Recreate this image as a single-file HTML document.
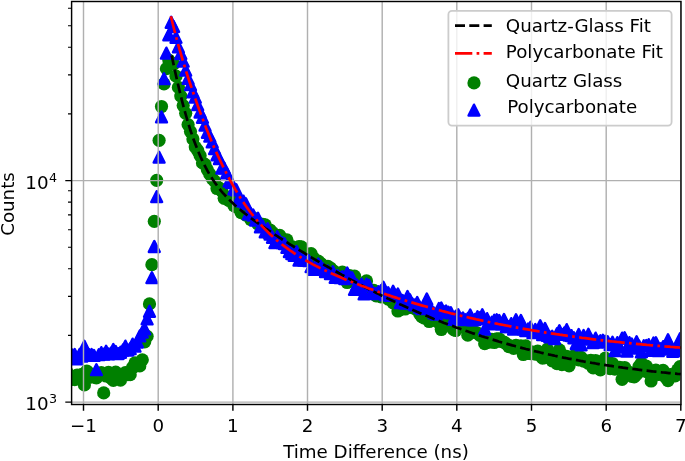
<!DOCTYPE html>
<html lang="en"><head><meta charset="utf-8"><title>Counts vs Time Difference</title>
<style>html,body{margin:0;padding:0;background:#fff}svg{display:block;filter:blur(0.45px)}</style></head>
<body>
<svg width="685" height="461" viewBox="0 0 685 461" font-family="'DejaVu Sans', 'Liberation Sans', sans-serif" font-size="18.25px" fill="#000">
<rect width="685" height="461" fill="#fff"/>
<defs><clipPath id="ax"><rect x="71.6" y="1.5" width="609.4" height="403.0"/></clipPath>
<circle id="c" r="6.6" fill="#008000"/>
<path id="t" d="M0-5.4L5.4 5.4H-5.4Z" fill="#00f" stroke="#00f" stroke-width="2.5" stroke-linejoin="round"/>
</defs>
<g clip-path="url(#ax)">
<g><use href="#c" x="62.7" y="377.6"/><use href="#c" x="65.1" y="372.4"/><use href="#c" x="67.5" y="372.8"/><use href="#c" x="69.9" y="379.7"/><use href="#c" x="72.3" y="378.8"/><use href="#c" x="74.7" y="379.6"/><use href="#c" x="77.1" y="375.2"/><use href="#c" x="79.6" y="377.6"/><use href="#c" x="82.0" y="374.3"/><use href="#c" x="84.4" y="384.9"/><use href="#c" x="86.8" y="371.0"/><use href="#c" x="89.2" y="377.3"/><use href="#c" x="91.6" y="374.1"/><use href="#c" x="94.0" y="377.2"/><use href="#c" x="96.4" y="377.9"/><use href="#c" x="98.8" y="374.4"/><use href="#c" x="101.3" y="372.7"/><use href="#c" x="103.7" y="392.9"/><use href="#c" x="106.1" y="376.0"/><use href="#c" x="108.5" y="372.3"/><use href="#c" x="110.9" y="378.1"/><use href="#c" x="113.3" y="380.3"/><use href="#c" x="115.7" y="372.1"/><use href="#c" x="118.1" y="375.7"/><use href="#c" x="120.5" y="380.2"/><use href="#c" x="123.0" y="374.9"/><use href="#c" x="125.4" y="372.7"/><use href="#c" x="127.8" y="374.6"/><use href="#c" x="130.2" y="374.7"/><use href="#c" x="132.6" y="367.5"/><use href="#c" x="135.0" y="362.9"/><use href="#c" x="137.4" y="365.7"/><use href="#c" x="139.8" y="365.9"/><use href="#c" x="142.3" y="359.8"/><use href="#c" x="144.7" y="341.8"/><use href="#c" x="147.1" y="336.3"/><use href="#c" x="149.5" y="303.9"/><use href="#c" x="151.9" y="264.7"/><use href="#c" x="154.3" y="221.3"/><use href="#c" x="156.7" y="180.3"/><use href="#c" x="159.1" y="140.3"/><use href="#c" x="161.5" y="106.5"/><use href="#c" x="164.0" y="83.9"/><use href="#c" x="166.4" y="68.7"/><use href="#c" x="168.8" y="60.1"/><use href="#c" x="171.2" y="62.9"/><use href="#c" x="173.6" y="64.0"/><use href="#c" x="176.0" y="76.2"/><use href="#c" x="178.4" y="87.4"/><use href="#c" x="180.8" y="96.1"/><use href="#c" x="183.2" y="105.6"/><use href="#c" x="185.7" y="113.3"/><use href="#c" x="188.1" y="124.6"/><use href="#c" x="190.5" y="131.6"/><use href="#c" x="192.9" y="139.0"/><use href="#c" x="195.3" y="147.1"/><use href="#c" x="197.7" y="150.5"/><use href="#c" x="200.1" y="155.6"/><use href="#c" x="202.5" y="162.9"/><use href="#c" x="205.0" y="164.4"/><use href="#c" x="207.4" y="169.8"/><use href="#c" x="209.8" y="174.2"/><use href="#c" x="212.2" y="178.5"/><use href="#c" x="214.6" y="181.1"/><use href="#c" x="217.0" y="188.5"/><use href="#c" x="219.4" y="188.1"/><use href="#c" x="221.8" y="191.0"/><use href="#c" x="224.2" y="198.3"/><use href="#c" x="226.7" y="196.9"/><use href="#c" x="229.1" y="200.5"/><use href="#c" x="231.5" y="200.9"/><use href="#c" x="233.9" y="205.5"/><use href="#c" x="236.3" y="206.8"/><use href="#c" x="238.7" y="208.2"/><use href="#c" x="241.1" y="212.7"/><use href="#c" x="243.5" y="211.6"/><use href="#c" x="245.9" y="215.0"/><use href="#c" x="248.4" y="215.6"/><use href="#c" x="250.8" y="219.5"/><use href="#c" x="253.2" y="217.9"/><use href="#c" x="255.6" y="220.7"/><use href="#c" x="258.0" y="224.1"/><use href="#c" x="260.4" y="224.0"/><use href="#c" x="262.8" y="224.3"/><use href="#c" x="265.2" y="224.8"/><use href="#c" x="267.7" y="233.9"/><use href="#c" x="270.1" y="230.0"/><use href="#c" x="272.5" y="232.5"/><use href="#c" x="274.9" y="235.3"/><use href="#c" x="277.3" y="239.1"/><use href="#c" x="279.7" y="235.4"/><use href="#c" x="282.1" y="242.8"/><use href="#c" x="284.5" y="240.0"/><use href="#c" x="286.9" y="239.8"/><use href="#c" x="289.4" y="248.3"/><use href="#c" x="291.8" y="246.6"/><use href="#c" x="294.2" y="250.7"/><use href="#c" x="296.6" y="248.3"/><use href="#c" x="299.0" y="246.7"/><use href="#c" x="301.4" y="246.9"/><use href="#c" x="303.8" y="257.9"/><use href="#c" x="306.2" y="256.2"/><use href="#c" x="308.6" y="254.4"/><use href="#c" x="311.1" y="253.6"/><use href="#c" x="313.5" y="258.0"/><use href="#c" x="315.9" y="262.5"/><use href="#c" x="318.3" y="261.1"/><use href="#c" x="320.7" y="263.4"/><use href="#c" x="323.1" y="265.3"/><use href="#c" x="325.5" y="268.1"/><use href="#c" x="327.9" y="266.4"/><use href="#c" x="330.4" y="268.0"/><use href="#c" x="332.8" y="270.5"/><use href="#c" x="335.2" y="272.2"/><use href="#c" x="337.6" y="276.6"/><use href="#c" x="340.0" y="275.6"/><use href="#c" x="342.4" y="272.2"/><use href="#c" x="344.8" y="277.5"/><use href="#c" x="347.2" y="282.5"/><use href="#c" x="349.6" y="275.7"/><use href="#c" x="352.1" y="279.3"/><use href="#c" x="354.5" y="276.1"/><use href="#c" x="356.9" y="283.2"/><use href="#c" x="359.3" y="286.0"/><use href="#c" x="361.7" y="290.3"/><use href="#c" x="364.1" y="283.3"/><use href="#c" x="366.5" y="280.9"/><use href="#c" x="368.9" y="292.2"/><use href="#c" x="371.3" y="292.9"/><use href="#c" x="373.8" y="290.3"/><use href="#c" x="376.2" y="295.9"/><use href="#c" x="378.6" y="295.3"/><use href="#c" x="381.0" y="296.8"/><use href="#c" x="383.4" y="296.2"/><use href="#c" x="385.8" y="294.6"/><use href="#c" x="388.2" y="299.1"/><use href="#c" x="390.6" y="297.4"/><use href="#c" x="393.1" y="302.8"/><use href="#c" x="395.5" y="301.5"/><use href="#c" x="397.9" y="311.0"/><use href="#c" x="400.3" y="309.7"/><use href="#c" x="402.7" y="303.3"/><use href="#c" x="405.1" y="309.0"/><use href="#c" x="407.5" y="306.2"/><use href="#c" x="409.9" y="307.4"/><use href="#c" x="412.3" y="305.9"/><use href="#c" x="414.8" y="308.6"/><use href="#c" x="417.2" y="308.9"/><use href="#c" x="419.6" y="313.8"/><use href="#c" x="422.0" y="316.9"/><use href="#c" x="424.4" y="318.0"/><use href="#c" x="426.8" y="318.2"/><use href="#c" x="429.2" y="321.5"/><use href="#c" x="431.6" y="320.4"/><use href="#c" x="434.0" y="319.7"/><use href="#c" x="436.5" y="319.5"/><use href="#c" x="438.9" y="322.5"/><use href="#c" x="441.3" y="329.5"/><use href="#c" x="443.7" y="323.5"/><use href="#c" x="446.1" y="323.3"/><use href="#c" x="448.5" y="321.1"/><use href="#c" x="450.9" y="323.8"/><use href="#c" x="453.3" y="329.3"/><use href="#c" x="455.7" y="330.5"/><use href="#c" x="458.2" y="321.4"/><use href="#c" x="460.6" y="326.7"/><use href="#c" x="463.0" y="323.7"/><use href="#c" x="465.4" y="323.4"/><use href="#c" x="467.8" y="335.2"/><use href="#c" x="470.2" y="331.4"/><use href="#c" x="472.6" y="331.9"/><use href="#c" x="475.0" y="332.4"/><use href="#c" x="477.5" y="333.2"/><use href="#c" x="479.9" y="335.3"/><use href="#c" x="482.3" y="336.2"/><use href="#c" x="484.7" y="343.7"/><use href="#c" x="487.1" y="339.1"/><use href="#c" x="489.5" y="342.2"/><use href="#c" x="491.9" y="339.4"/><use href="#c" x="494.3" y="342.5"/><use href="#c" x="496.7" y="338.9"/><use href="#c" x="499.2" y="338.9"/><use href="#c" x="501.6" y="341.6"/><use href="#c" x="504.0" y="342.2"/><use href="#c" x="506.4" y="343.8"/><use href="#c" x="508.8" y="346.7"/><use href="#c" x="511.2" y="346.2"/><use href="#c" x="513.6" y="348.3"/><use href="#c" x="516.0" y="345.3"/><use href="#c" x="518.4" y="347.5"/><use href="#c" x="520.9" y="345.8"/><use href="#c" x="523.3" y="354.5"/><use href="#c" x="525.7" y="345.8"/><use href="#c" x="528.1" y="353.3"/><use href="#c" x="530.5" y="353.7"/><use href="#c" x="532.9" y="352.0"/><use href="#c" x="535.3" y="354.2"/><use href="#c" x="537.7" y="351.2"/><use href="#c" x="540.2" y="355.4"/><use href="#c" x="542.6" y="358.2"/><use href="#c" x="545.0" y="357.7"/><use href="#c" x="547.4" y="349.2"/><use href="#c" x="549.8" y="355.0"/><use href="#c" x="552.2" y="360.8"/><use href="#c" x="554.6" y="356.2"/><use href="#c" x="557.0" y="363.7"/><use href="#c" x="559.4" y="349.8"/><use href="#c" x="561.9" y="364.6"/><use href="#c" x="564.3" y="356.2"/><use href="#c" x="566.7" y="356.4"/><use href="#c" x="569.1" y="365.8"/><use href="#c" x="571.5" y="358.4"/><use href="#c" x="573.9" y="355.8"/><use href="#c" x="576.3" y="358.5"/><use href="#c" x="578.7" y="359.9"/><use href="#c" x="581.1" y="357.4"/><use href="#c" x="583.6" y="361.2"/><use href="#c" x="586.0" y="360.9"/><use href="#c" x="588.4" y="363.3"/><use href="#c" x="590.8" y="360.4"/><use href="#c" x="593.2" y="367.9"/><use href="#c" x="595.6" y="360.5"/><use href="#c" x="598.0" y="366.7"/><use href="#c" x="600.4" y="369.8"/><use href="#c" x="602.9" y="363.5"/><use href="#c" x="605.3" y="358.2"/><use href="#c" x="607.7" y="361.7"/><use href="#c" x="610.1" y="368.7"/><use href="#c" x="612.5" y="363.5"/><use href="#c" x="614.9" y="369.1"/><use href="#c" x="617.3" y="367.9"/><use href="#c" x="619.7" y="367.3"/><use href="#c" x="622.1" y="379.3"/><use href="#c" x="624.6" y="367.5"/><use href="#c" x="627.0" y="373.5"/><use href="#c" x="629.4" y="372.3"/><use href="#c" x="631.8" y="376.4"/><use href="#c" x="634.2" y="376.9"/><use href="#c" x="636.6" y="374.4"/><use href="#c" x="639.0" y="366.5"/><use href="#c" x="641.4" y="363.1"/><use href="#c" x="643.8" y="370.9"/><use href="#c" x="646.3" y="366.1"/><use href="#c" x="648.7" y="372.6"/><use href="#c" x="651.1" y="381.0"/><use href="#c" x="653.5" y="371.2"/><use href="#c" x="655.9" y="370.1"/><use href="#c" x="658.3" y="374.5"/><use href="#c" x="660.7" y="371.3"/><use href="#c" x="663.1" y="370.3"/><use href="#c" x="665.6" y="377.4"/><use href="#c" x="668.0" y="380.7"/><use href="#c" x="670.4" y="374.7"/><use href="#c" x="672.8" y="374.9"/><use href="#c" x="675.2" y="375.8"/><use href="#c" x="677.6" y="369.8"/><use href="#c" x="680.0" y="366.7"/></g>
<g><use href="#t" x="62.7" y="349.2"/><use href="#t" x="65.1" y="360.2"/><use href="#t" x="67.5" y="352.9"/><use href="#t" x="69.9" y="355.3"/><use href="#t" x="72.3" y="355.0"/><use href="#t" x="74.7" y="354.4"/><use href="#t" x="77.1" y="358.8"/><use href="#t" x="79.6" y="354.5"/><use href="#t" x="82.0" y="356.0"/><use href="#t" x="84.4" y="346.3"/><use href="#t" x="86.8" y="353.3"/><use href="#t" x="89.2" y="354.7"/><use href="#t" x="91.6" y="354.5"/><use href="#t" x="94.0" y="355.4"/><use href="#t" x="96.4" y="369.7"/><use href="#t" x="98.8" y="354.7"/><use href="#t" x="101.3" y="352.6"/><use href="#t" x="103.7" y="354.2"/><use href="#t" x="106.1" y="351.3"/><use href="#t" x="108.5" y="353.9"/><use href="#t" x="110.9" y="353.2"/><use href="#t" x="113.3" y="349.4"/><use href="#t" x="115.7" y="351.5"/><use href="#t" x="118.1" y="353.6"/><use href="#t" x="120.5" y="352.3"/><use href="#t" x="123.0" y="350.0"/><use href="#t" x="125.4" y="346.1"/><use href="#t" x="127.8" y="350.1"/><use href="#t" x="130.2" y="348.7"/><use href="#t" x="132.6" y="344.1"/><use href="#t" x="135.0" y="346.2"/><use href="#t" x="137.4" y="342.0"/><use href="#t" x="139.8" y="335.9"/><use href="#t" x="142.3" y="332.1"/><use href="#t" x="144.7" y="328.9"/><use href="#t" x="147.1" y="318.9"/><use href="#t" x="149.5" y="311.3"/><use href="#t" x="151.9" y="277.7"/><use href="#t" x="154.3" y="246.5"/><use href="#t" x="156.7" y="196.6"/><use href="#t" x="159.1" y="157.2"/><use href="#t" x="161.5" y="116.9"/><use href="#t" x="164.0" y="78.7"/><use href="#t" x="166.4" y="53.1"/><use href="#t" x="168.8" y="34.9"/><use href="#t" x="171.2" y="22.3"/><use href="#t" x="173.6" y="26.5"/><use href="#t" x="176.0" y="37.3"/><use href="#t" x="178.4" y="46.8"/><use href="#t" x="180.8" y="53.5"/><use href="#t" x="183.2" y="61.2"/><use href="#t" x="185.7" y="70.2"/><use href="#t" x="188.1" y="78.4"/><use href="#t" x="190.5" y="84.7"/><use href="#t" x="192.9" y="91.9"/><use href="#t" x="195.3" y="97.2"/><use href="#t" x="197.7" y="104.7"/><use href="#t" x="200.1" y="112.0"/><use href="#t" x="202.5" y="117.3"/><use href="#t" x="205.0" y="125.2"/><use href="#t" x="207.4" y="132.3"/><use href="#t" x="209.8" y="136.2"/><use href="#t" x="212.2" y="141.9"/><use href="#t" x="214.6" y="148.6"/><use href="#t" x="217.0" y="154.9"/><use href="#t" x="219.4" y="158.6"/><use href="#t" x="221.8" y="168.1"/><use href="#t" x="224.2" y="167.9"/><use href="#t" x="226.7" y="172.9"/><use href="#t" x="229.1" y="181.2"/><use href="#t" x="231.5" y="182.7"/><use href="#t" x="233.9" y="188.8"/><use href="#t" x="236.3" y="189.8"/><use href="#t" x="238.7" y="198.9"/><use href="#t" x="241.1" y="200.6"/><use href="#t" x="243.5" y="201.1"/><use href="#t" x="245.9" y="203.8"/><use href="#t" x="248.4" y="213.8"/><use href="#t" x="250.8" y="213.6"/><use href="#t" x="253.2" y="215.0"/><use href="#t" x="255.6" y="220.0"/><use href="#t" x="258.0" y="218.2"/><use href="#t" x="260.4" y="226.9"/><use href="#t" x="262.8" y="226.1"/><use href="#t" x="265.2" y="231.8"/><use href="#t" x="267.7" y="228.7"/><use href="#t" x="270.1" y="234.2"/><use href="#t" x="272.5" y="237.3"/><use href="#t" x="274.9" y="242.7"/><use href="#t" x="277.3" y="236.7"/><use href="#t" x="279.7" y="240.8"/><use href="#t" x="282.1" y="242.7"/><use href="#t" x="284.5" y="243.7"/><use href="#t" x="286.9" y="247.3"/><use href="#t" x="289.4" y="251.5"/><use href="#t" x="291.8" y="253.6"/><use href="#t" x="294.2" y="255.3"/><use href="#t" x="296.6" y="251.4"/><use href="#t" x="299.0" y="260.1"/><use href="#t" x="301.4" y="259.3"/><use href="#t" x="303.8" y="260.1"/><use href="#t" x="306.2" y="260.0"/><use href="#t" x="308.6" y="260.5"/><use href="#t" x="311.1" y="266.7"/><use href="#t" x="313.5" y="269.4"/><use href="#t" x="315.9" y="265.9"/><use href="#t" x="318.3" y="263.9"/><use href="#t" x="320.7" y="266.3"/><use href="#t" x="323.1" y="268.9"/><use href="#t" x="325.5" y="271.5"/><use href="#t" x="327.9" y="271.0"/><use href="#t" x="330.4" y="273.6"/><use href="#t" x="332.8" y="271.7"/><use href="#t" x="335.2" y="277.3"/><use href="#t" x="337.6" y="275.7"/><use href="#t" x="340.0" y="277.5"/><use href="#t" x="342.4" y="276.6"/><use href="#t" x="344.8" y="278.5"/><use href="#t" x="347.2" y="273.0"/><use href="#t" x="349.6" y="276.9"/><use href="#t" x="352.1" y="277.8"/><use href="#t" x="354.5" y="289.3"/><use href="#t" x="356.9" y="285.0"/><use href="#t" x="359.3" y="286.7"/><use href="#t" x="361.7" y="284.2"/><use href="#t" x="364.1" y="293.8"/><use href="#t" x="366.5" y="284.1"/><use href="#t" x="368.9" y="285.3"/><use href="#t" x="371.3" y="293.4"/><use href="#t" x="373.8" y="293.2"/><use href="#t" x="376.2" y="293.5"/><use href="#t" x="378.6" y="291.7"/><use href="#t" x="381.0" y="290.7"/><use href="#t" x="383.4" y="287.3"/><use href="#t" x="385.8" y="294.9"/><use href="#t" x="388.2" y="292.7"/><use href="#t" x="390.6" y="295.4"/><use href="#t" x="393.1" y="291.3"/><use href="#t" x="395.5" y="295.1"/><use href="#t" x="397.9" y="294.0"/><use href="#t" x="400.3" y="302.5"/><use href="#t" x="402.7" y="300.4"/><use href="#t" x="405.1" y="303.2"/><use href="#t" x="407.5" y="296.5"/><use href="#t" x="409.9" y="299.8"/><use href="#t" x="412.3" y="303.7"/><use href="#t" x="414.8" y="304.9"/><use href="#t" x="417.2" y="302.5"/><use href="#t" x="419.6" y="307.1"/><use href="#t" x="422.0" y="308.6"/><use href="#t" x="424.4" y="304.6"/><use href="#t" x="426.8" y="299.0"/><use href="#t" x="429.2" y="308.3"/><use href="#t" x="431.6" y="310.1"/><use href="#t" x="434.0" y="312.9"/><use href="#t" x="436.5" y="314.1"/><use href="#t" x="438.9" y="308.4"/><use href="#t" x="441.3" y="307.9"/><use href="#t" x="443.7" y="311.4"/><use href="#t" x="446.1" y="310.9"/><use href="#t" x="448.5" y="312.2"/><use href="#t" x="450.9" y="312.8"/><use href="#t" x="453.3" y="319.3"/><use href="#t" x="455.7" y="316.1"/><use href="#t" x="458.2" y="314.7"/><use href="#t" x="460.6" y="318.4"/><use href="#t" x="463.0" y="317.9"/><use href="#t" x="465.4" y="319.7"/><use href="#t" x="467.8" y="318.5"/><use href="#t" x="470.2" y="314.9"/><use href="#t" x="472.6" y="319.9"/><use href="#t" x="475.0" y="319.5"/><use href="#t" x="477.5" y="316.7"/><use href="#t" x="479.9" y="317.8"/><use href="#t" x="482.3" y="314.7"/><use href="#t" x="484.7" y="329.0"/><use href="#t" x="487.1" y="318.6"/><use href="#t" x="489.5" y="323.9"/><use href="#t" x="491.9" y="322.2"/><use href="#t" x="494.3" y="320.2"/><use href="#t" x="496.7" y="319.8"/><use href="#t" x="499.2" y="320.4"/><use href="#t" x="501.6" y="324.1"/><use href="#t" x="504.0" y="319.4"/><use href="#t" x="506.4" y="326.6"/><use href="#t" x="508.8" y="326.6"/><use href="#t" x="511.2" y="323.6"/><use href="#t" x="513.6" y="329.0"/><use href="#t" x="516.0" y="319.7"/><use href="#t" x="518.4" y="324.1"/><use href="#t" x="520.9" y="320.5"/><use href="#t" x="523.3" y="328.8"/><use href="#t" x="525.7" y="330.6"/><use href="#t" x="528.1" y="329.0"/><use href="#t" x="530.5" y="327.3"/><use href="#t" x="532.9" y="332.7"/><use href="#t" x="535.3" y="329.4"/><use href="#t" x="537.7" y="331.3"/><use href="#t" x="540.2" y="325.7"/><use href="#t" x="542.6" y="334.6"/><use href="#t" x="545.0" y="328.5"/><use href="#t" x="547.4" y="335.3"/><use href="#t" x="549.8" y="336.9"/><use href="#t" x="552.2" y="336.3"/><use href="#t" x="554.6" y="338.6"/><use href="#t" x="557.0" y="333.7"/><use href="#t" x="559.4" y="330.7"/><use href="#t" x="561.9" y="334.4"/><use href="#t" x="564.3" y="332.9"/><use href="#t" x="566.7" y="329.6"/><use href="#t" x="569.1" y="335.0"/><use href="#t" x="571.5" y="335.6"/><use href="#t" x="573.9" y="337.8"/><use href="#t" x="576.3" y="343.5"/><use href="#t" x="578.7" y="334.4"/><use href="#t" x="581.1" y="344.8"/><use href="#t" x="583.6" y="335.5"/><use href="#t" x="586.0" y="338.3"/><use href="#t" x="588.4" y="334.3"/><use href="#t" x="590.8" y="339.2"/><use href="#t" x="593.2" y="342.5"/><use href="#t" x="595.6" y="338.1"/><use href="#t" x="598.0" y="342.0"/><use href="#t" x="600.4" y="340.8"/><use href="#t" x="602.9" y="340.2"/><use href="#t" x="605.3" y="341.2"/><use href="#t" x="607.7" y="341.7"/><use href="#t" x="610.1" y="344.6"/><use href="#t" x="612.5" y="342.2"/><use href="#t" x="614.9" y="350.7"/><use href="#t" x="617.3" y="342.6"/><use href="#t" x="619.7" y="347.2"/><use href="#t" x="622.1" y="338.1"/><use href="#t" x="624.6" y="337.8"/><use href="#t" x="627.0" y="351.2"/><use href="#t" x="629.4" y="342.6"/><use href="#t" x="631.8" y="344.0"/><use href="#t" x="634.2" y="348.0"/><use href="#t" x="636.6" y="341.8"/><use href="#t" x="639.0" y="346.0"/><use href="#t" x="641.4" y="351.8"/><use href="#t" x="643.8" y="345.7"/><use href="#t" x="646.3" y="345.4"/><use href="#t" x="648.7" y="344.6"/><use href="#t" x="651.1" y="350.4"/><use href="#t" x="653.5" y="343.0"/><use href="#t" x="655.9" y="342.7"/><use href="#t" x="658.3" y="350.7"/><use href="#t" x="660.7" y="348.8"/><use href="#t" x="663.1" y="346.6"/><use href="#t" x="665.6" y="348.8"/><use href="#t" x="668.0" y="339.8"/><use href="#t" x="670.4" y="346.0"/><use href="#t" x="672.8" y="351.3"/><use href="#t" x="675.2" y="350.5"/><use href="#t" x="677.6" y="347.6"/><use href="#t" x="680.0" y="338.6"/></g>
<path d="M83.5 1.5V404.5M158.2 1.5V404.5M232.9 1.5V404.5M307.5 1.5V404.5M382.2 1.5V404.5M456.8 1.5V404.5M531.5 1.5V404.5M606.2 1.5V404.5M680.8 1.5V404.5M71.6 402.1H681.0M71.6 180.6H681.0" stroke="#b0b0b0" stroke-width="1.44" fill="none"/>
<path d="M171.7 55.5L173.4 63.6L175.1 71.5L176.8 79.1L178.5 86.4L180.2 93.5L181.9 100.3L183.6 106.8L185.3 113.0L187.0 119.0L188.7 124.7L190.4 130.1L192.1 135.2L193.8 140.1L195.6 144.7L197.3 149.1L199.0 153.2L200.7 157.2L202.4 160.9L204.1 164.4L205.8 167.7L207.5 170.8L209.2 173.8L210.9 176.6L212.6 179.3L214.3 181.8L216.0 184.2L217.7 186.5L219.4 188.7L221.1 190.8L222.8 192.8L224.5 194.7L226.2 196.6L227.9 198.3L229.6 200.1L231.3 201.7L233.0 203.3L234.7 204.9L236.4 206.4L238.1 207.9L239.8 209.3L241.5 210.7L243.2 212.1L244.9 213.5L246.6 214.8L248.3 216.1L250.0 217.4L251.7 218.7L253.4 219.9L255.1 221.2L256.8 222.4L258.6 223.6L260.3 224.8L262.0 226.0L263.7 227.1L265.4 228.3L267.1 229.4L268.8 230.6L270.5 231.7L272.2 232.9L273.9 234.0L275.6 235.1L277.3 236.2L279.0 237.3L280.7 238.4L282.4 239.5L284.1 240.6L285.8 241.7L287.5 242.7L289.2 243.8L290.9 244.9L292.6 245.9L294.3 247.0L296.0 248.0L297.7 249.1L299.4 250.1L301.1 251.2L302.8 252.2L304.5 253.2L306.2 254.3L307.9 255.3L309.6 256.3L311.3 257.3L313.0 258.3L314.7 259.3L316.4 260.3L318.1 261.3L319.8 262.3L321.6 263.3L323.3 264.3L325.0 265.3L326.7 266.3L328.4 267.2L330.1 268.2L331.8 269.2L333.5 270.1L335.2 271.1L336.9 272.0L338.6 273.0L340.3 273.9L342.0 274.9L343.7 275.8L345.4 276.7L347.1 277.7L348.8 278.6L350.5 279.5L352.2 280.4L353.9 281.3L355.6 282.2L357.3 283.1L359.0 284.0L360.7 284.9L362.4 285.8L364.1 286.7L365.8 287.6L367.5 288.4L369.2 289.3L370.9 290.2L372.6 291.0L374.3 291.9L376.0 292.7L377.7 293.6L379.4 294.4L381.1 295.3L382.8 296.1L384.6 296.9L386.3 297.7L388.0 298.6L389.7 299.4L391.4 300.2L393.1 301.0L394.8 301.8L396.5 302.6L398.2 303.4L399.9 304.2L401.6 304.9L403.3 305.7L405.0 306.5L406.7 307.3L408.4 308.0L410.1 308.8L411.8 309.5L413.5 310.3L415.2 311.0L416.9 311.8L418.6 312.5L420.3 313.2L422.0 313.9L423.7 314.7L425.4 315.4L427.1 316.1L428.8 316.8L430.5 317.5L432.2 318.2L433.9 318.9L435.6 319.5L437.3 320.2L439.0 320.9L440.7 321.6L442.4 322.2L444.1 322.9L445.8 323.5L447.6 324.2L449.3 324.8L451.0 325.5L452.7 326.1L454.4 326.7L456.1 327.4L457.8 328.0L459.5 328.6L461.2 329.2L462.9 329.8L464.6 330.4L466.3 331.0L468.0 331.6L469.7 332.2L471.4 332.8L473.1 333.4L474.8 333.9L476.5 334.5L478.2 335.1L479.9 335.6L481.6 336.2L483.3 336.7L485.0 337.3L486.7 337.8L488.4 338.3L490.1 338.9L491.8 339.4L493.5 339.9L495.2 340.4L496.9 340.9L498.6 341.5L500.3 342.0L502.0 342.5L503.7 342.9L505.4 343.4L507.1 343.9L508.8 344.4L510.6 344.9L512.3 345.4L514.0 345.8L515.7 346.3L517.4 346.7L519.1 347.2L520.8 347.6L522.5 348.1L524.2 348.5L525.9 349.0L527.6 349.4L529.3 349.8L531.0 350.3L532.7 350.7L534.4 351.1L536.1 351.5L537.8 351.9L539.5 352.3L541.2 352.7L542.9 353.1L544.6 353.5L546.3 353.9L548.0 354.3L549.7 354.7L551.4 355.0L553.1 355.4L554.8 355.8L556.5 356.1L558.2 356.5L559.9 356.9L561.6 357.2L563.3 357.6L565.0 357.9L566.7 358.2L568.4 358.6L570.1 358.9L571.8 359.2L573.6 359.6L575.3 359.9L577.0 360.2L578.7 360.5L580.4 360.9L582.1 361.2L583.8 361.5L585.5 361.8L587.2 362.1L588.9 362.4L590.6 362.7L592.3 363.0L594.0 363.2L595.7 363.5L597.4 363.8L599.1 364.1L600.8 364.4L602.5 364.6L604.2 364.9L605.9 365.2L607.6 365.4L609.3 365.7L611.0 365.9L612.7 366.2L614.4 366.4L616.1 366.7L617.8 366.9L619.5 367.2L621.2 367.4L622.9 367.7L624.6 367.9L626.3 368.1L628.0 368.3L629.7 368.6L631.4 368.8L633.1 369.0L634.8 369.2L636.5 369.4L638.3 369.7L640.0 369.9L641.7 370.1L643.4 370.3L645.1 370.5L646.8 370.7L648.5 370.9L650.2 371.1L651.9 371.3L653.6 371.5L655.3 371.6L657.0 371.8L658.7 372.0L660.4 372.2L662.1 372.4L663.8 372.5L665.5 372.7L667.2 372.9L668.9 373.1L670.6 373.2L672.3 373.4L674.0 373.6L675.7 373.7L677.4 373.9L679.1 374.0L680.8 374.2" stroke="#000" stroke-width="2.7" fill="none" stroke-dasharray="10 4.3"/>
<path d="M170.9 16.3L172.6 23.3L174.3 30.0L176.0 36.5L177.7 42.8L179.4 48.8L181.1 54.7L182.8 60.5L184.5 66.1L186.2 71.6L187.9 76.9L189.7 82.2L191.4 87.3L193.1 92.3L194.8 97.3L196.5 102.1L198.2 106.9L199.9 111.6L201.6 116.1L203.3 120.6L205.0 125.1L206.7 129.4L208.4 133.6L210.1 137.8L211.8 141.9L213.5 145.9L215.2 149.8L216.9 153.6L218.6 157.3L220.4 161.0L222.1 164.6L223.8 168.0L225.5 171.4L227.2 174.8L228.9 178.0L230.6 181.1L232.3 184.2L234.0 187.2L235.7 190.1L237.4 193.0L239.1 195.7L240.8 198.4L242.5 201.0L244.2 203.5L245.9 206.0L247.6 208.4L249.3 210.7L251.0 213.0L252.8 215.2L254.5 217.3L256.2 219.4L257.9 221.4L259.6 223.3L261.3 225.2L263.0 227.1L264.7 228.9L266.4 230.6L268.1 232.3L269.8 233.9L271.5 235.5L273.2 237.1L274.9 238.6L276.6 240.1L278.3 241.5L280.0 242.9L281.7 244.3L283.5 245.6L285.2 246.9L286.9 248.1L288.6 249.4L290.3 250.6L292.0 251.7L293.7 252.9L295.4 254.0L297.1 255.1L298.8 256.2L300.5 257.2L302.2 258.3L303.9 259.3L305.6 260.3L307.3 261.2L309.0 262.2L310.7 263.1L312.4 264.1L314.1 265.0L315.9 265.9L317.6 266.7L319.3 267.6L321.0 268.4L322.7 269.3L324.4 270.1L326.1 270.9L327.8 271.7L329.5 272.5L331.2 273.3L332.9 274.1L334.6 274.8L336.3 275.6L338.0 276.3L339.7 277.0L341.4 277.8L343.1 278.5L344.8 279.2L346.6 279.9L348.3 280.6L350.0 281.3L351.7 281.9L353.4 282.6L355.1 283.3L356.8 283.9L358.5 284.6L360.2 285.2L361.9 285.9L363.6 286.5L365.3 287.1L367.0 287.8L368.7 288.4L370.4 289.0L372.1 289.6L373.8 290.2L375.5 290.8L377.3 291.4L379.0 292.0L380.7 292.6L382.4 293.2L384.1 293.7L385.8 294.3L387.5 294.9L389.2 295.4L390.9 296.0L392.6 296.6L394.3 297.1L396.0 297.6L397.7 298.2L399.4 298.7L401.1 299.3L402.8 299.8L404.5 300.3L406.2 300.8L407.9 301.4L409.7 301.9L411.4 302.4L413.1 302.9L414.8 303.4L416.5 303.9L418.2 304.4L419.9 304.9L421.6 305.4L423.3 305.9L425.0 306.3L426.7 306.8L428.4 307.3L430.1 307.8L431.8 308.2L433.5 308.7L435.2 309.2L436.9 309.6L438.6 310.1L440.4 310.5L442.1 311.0L443.8 311.4L445.5 311.9L447.2 312.3L448.9 312.7L450.6 313.2L452.3 313.6L454.0 314.0L455.7 314.4L457.4 314.9L459.1 315.3L460.8 315.7L462.5 316.1L464.2 316.5L465.9 316.9L467.6 317.3L469.3 317.7L471.1 318.1L472.8 318.5L474.5 318.9L476.2 319.3L477.9 319.6L479.6 320.0L481.3 320.4L483.0 320.8L484.7 321.1L486.4 321.5L488.1 321.9L489.8 322.2L491.5 322.6L493.2 322.9L494.9 323.3L496.6 323.6L498.3 324.0L500.0 324.3L501.7 324.7L503.5 325.0L505.2 325.3L506.9 325.7L508.6 326.0L510.3 326.3L512.0 326.7L513.7 327.0L515.4 327.3L517.1 327.6L518.8 327.9L520.5 328.2L522.2 328.5L523.9 328.8L525.6 329.1L527.3 329.4L529.0 329.7L530.7 330.0L532.4 330.3L534.2 330.6L535.9 330.9L537.6 331.2L539.3 331.5L541.0 331.8L542.7 332.0L544.4 332.3L546.1 332.6L547.8 332.8L549.5 333.1L551.2 333.4L552.9 333.6L554.6 333.9L556.3 334.2L558.0 334.4L559.7 334.7L561.4 334.9L563.1 335.2L564.8 335.4L566.6 335.7L568.3 335.9L570.0 336.1L571.7 336.4L573.4 336.6L575.1 336.9L576.8 337.1L578.5 337.3L580.2 337.5L581.9 337.8L583.6 338.0L585.3 338.2L587.0 338.4L588.7 338.6L590.4 338.9L592.1 339.1L593.8 339.3L595.5 339.5L597.3 339.7L599.0 339.9L600.7 340.1L602.4 340.3L604.1 340.5L605.8 340.7L607.5 340.9L609.2 341.1L610.9 341.3L612.6 341.5L614.3 341.6L616.0 341.8L617.7 342.0L619.4 342.2L621.1 342.4L622.8 342.6L624.5 342.7L626.2 342.9L628.0 343.1L629.7 343.2L631.4 343.4L633.1 343.6L634.8 343.7L636.5 343.9L638.2 344.1L639.9 344.2L641.6 344.4L643.3 344.6L645.0 344.7L646.7 344.9L648.4 345.0L650.1 345.2L651.8 345.3L653.5 345.5L655.2 345.6L656.9 345.8L658.6 345.9L660.4 346.0L662.1 346.2L663.8 346.3L665.5 346.5L667.2 346.6L668.9 346.7L670.6 346.9L672.3 347.0L674.0 347.1L675.7 347.3L677.4 347.4L679.1 347.5L680.8 347.6" stroke="#f00" stroke-width="2.7" fill="none" stroke-dasharray="17.3 4.3 2.7 4.3"/>
</g>
<path d="M83.5 404.5v6.3M158.2 404.5v6.3M232.9 404.5v6.3M307.5 404.5v6.3M382.2 404.5v6.3M456.8 404.5v6.3M531.5 404.5v6.3M606.2 404.5v6.3M680.8 404.5v6.3M71.6 402.1h-6.3M71.6 180.6h-6.3" stroke="#000" stroke-width="1.44" fill="none"/>
<path d="M71.6 335.4h-3.6M71.6 296.4h-3.6M71.6 268.7h-3.6M71.6 247.3h-3.6M71.6 229.7h-3.6M71.6 214.9h-3.6M71.6 202.1h-3.6M71.6 190.7h-3.6M71.6 113.9h-3.6M71.6 74.9h-3.6M71.6 47.2h-3.6M71.6 25.8h-3.6M71.6 8.2h-3.6" stroke="#000" stroke-width="1.08" fill="none"/>
<rect x="71.6" y="1.5" width="609.4" height="403.0" fill="none" stroke="#000" stroke-width="1.44"/>
<text x="83.5" y="432.1" text-anchor="middle">−1</text>
<text x="158.2" y="432.1" text-anchor="middle">0</text>
<text x="232.9" y="432.1" text-anchor="middle">1</text>
<text x="307.5" y="432.1" text-anchor="middle">2</text>
<text x="382.2" y="432.1" text-anchor="middle">3</text>
<text x="456.8" y="432.1" text-anchor="middle">4</text>
<text x="531.5" y="432.1" text-anchor="middle">5</text>
<text x="606.2" y="432.1" text-anchor="middle">6</text>
<text x="680.8" y="432.1" text-anchor="middle">7</text>
<text x="57.2" y="410.3" text-anchor="end">10<tspan font-size="12.7px" dx="0.6" dy="-7.3">3</tspan></text>
<text x="57.2" y="188.8" text-anchor="end">10<tspan font-size="12.7px" dx="0.6" dy="-7.3">4</tspan></text>
<text x="376" y="457.8" text-anchor="middle">Time Difference (ns)</text>
<text transform="translate(14.1 204) rotate(-90)" text-anchor="middle">Counts</text>
<rect x="448.4" y="10.9" width="223.2" height="114.7" rx="3.6" fill="#fff" fill-opacity="0.8" stroke="#ccc" stroke-width="1.8"/>
<path d="M455 25.7H491.8" stroke="#000" stroke-width="2.7" stroke-dasharray="10 4.3"/>
<path d="M455 53.4H491.8" stroke="#f00" stroke-width="2.7" stroke-dasharray="17.3 4.3 2.7 4.3"/>
<use href="#c" x="474" y="82.9"/>
<use href="#t" x="474" y="110.1"/>
<text x="505.8" y="32.3">Quartz-Glass Fit</text>
<text x="505.8" y="58.4">Polycarbonate Fit</text>
<text x="505.8" y="86.9">Quartz Glass</text>
<text x="507.2" y="113.4">Polycarbonate</text>
</svg>
</body></html>
